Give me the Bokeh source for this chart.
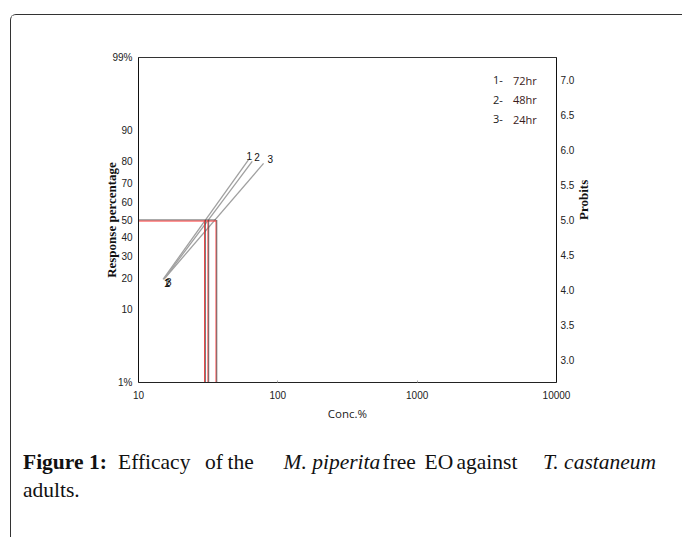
import math
from statistics import NormalDist
from bokeh.plotting import figure
from bokeh.layouts import column
from bokeh.models import LinearAxis, FixedTicker, Range1d, Label
from bokeh.core.properties import value
from bokeh.embed import file_html
from bokeh.resources import INLINE

# ---- data ----
series = ["1", "2", "3"]
legend_nums = ["1-", "2-", "3-"]
legend_times = ["72hr", "48hr", "24hr"]
start_conc = [15.0, 15.2, 15.5]
start_probit = [4.15, 4.15, 4.17]
end_conc = [61.5, 65.5, 79.0]
end_probit = [5.86, 5.84, 5.81]
lc50 = [29.8, 31.5, 36.0]
pct_ticks = [1, 10, 20, 30, 40, 50, 60, 70, 80, 90, 99]
pct_labels = ["1%", "10", "20", "30", "40", "50", "60", "70", "80", "90", "99%"]
probit_ticks = [3.0, 3.5, 4.0, 4.5, 5.0, 5.5, 6.0, 6.5, 7.0]
x_ticks = [10, 100, 1000, 10000]
caption_line1 = ["Figure 1:", "Efficacy", "of", "the", "M. piperita", "free", "EO",
                 "against", "T. castaneum"]
caption_style1 = ["bold", "normal", "normal", "normal", "italic", "normal", "normal",
                  "normal", "italic"]
caption_line2 = ["adults."]

nd = NormalDist()


def probit(pct):
    return 5 + nd.inv_cdf(pct / 100.0)


W, H = 671, 415
p = figure(width=W, height=H, x_axis_type="log",
           x_range=Range1d(10, 10000),
           y_range=Range1d(probit(1), probit(99)),
           output_backend="svg", toolbar_location=None,
           min_border_left=127, min_border_right=126,
           min_border_top=42, min_border_bottom=48)
p.grid.visible = False
p.outline_line_color = "#333333"
p.outline_line_width = 1
p.background_fill_color = "white"
p.border_fill_color = "white"

tick_font = "Liberation Sans"
tick_size = "10px"

# x axis
xa = p.xaxis[0]
xa.ticker = FixedTicker(ticks=x_ticks)
xa.major_label_overrides = {t: str(t) for t in x_ticks}
xa.major_label_text_font = tick_font
xa.major_label_text_font_size = tick_size
xa.major_label_text_color = "#222222"
xa.major_tick_in = 2
xa.major_tick_out = 0
xa.major_tick_line_color = "#aaaaaa"
xa.minor_tick_line_color = None
xa.axis_line_color = "#222222"
xa.major_label_standoff = 8
xa.axis_label = "Conc.%"
xa.axis_label_text_font = "Open Sans"
xa.axis_label_text_font_style = "normal"
xa.axis_label_text_font_size = "11.5px"
xa.axis_label_text_color = "#222222"
xa.axis_label_standoff = 4

# left (percentage) axis
ya = p.yaxis[0]
pt = [probit(v) for v in pct_ticks]
ya.ticker = FixedTicker(ticks=pt)
ya.major_label_overrides = {t: lab for t, lab in zip(pt, pct_labels)}
ya.major_label_text_font = tick_font
ya.major_label_text_font_size = tick_size
ya.major_label_text_color = "#222222"
ya.major_tick_line_color = None
ya.major_tick_in = 0
ya.major_tick_out = 0
ya.minor_tick_line_color = None
ya.minor_tick_in = 0
ya.minor_tick_out = 0
ya.axis_line_color = "#111111"
ya.major_label_standoff = 6
ya.axis_label = "Response percentage"
ya.axis_label_text_font = "Liberation Serif"
ya.axis_label_text_font_style = "bold"
ya.axis_label_text_font_size = "13px"
ya.axis_label_text_color = "#111111"
ya.axis_label_standoff = -10

# right (probit) axis
ra = LinearAxis(ticker=FixedTicker(ticks=probit_ticks))
ra.major_label_overrides = {t: f"{t:.1f}" for t in probit_ticks}
ra.major_label_text_font = tick_font
ra.major_label_text_font_size = tick_size
ra.major_label_text_color = "#222222"
ra.major_tick_line_color = None
ra.major_tick_in = 0
ra.major_tick_out = 0
ra.minor_tick_line_color = None
ra.minor_tick_in = 0
ra.minor_tick_out = 0
ra.axis_line_color = "#111111"
ra.major_label_standoff = 4
ra.axis_label = "Probits"
ra.axis_label_text_font = "Liberation Serif"
ra.axis_label_text_font_style = "bold"
ra.axis_label_text_font_size = "13px"
ra.axis_label_text_color = "#111111"
ra.axis_label_standoff = 6
if hasattr(ra, "axis_label_orientation"):
    ra.axis_label_orientation = math.pi / 2
p.add_layout(ra, "right")

# probit regression lines
p.segment(x0=start_conc, y0=start_probit, x1=end_conc, y1=end_probit,
          line_color="#a0a0a0", line_width=1.3)
top_offsets = [-2, 2, 4]
p.text(x=end_conc, y=end_probit, text=series, text_align="left",
       text_baseline="bottom", x_offset=top_offsets, y_offset=0,
       text_font=value(tick_font), text_font_size="10px", text_color="#111111")
p.text(x=start_conc, y=start_probit, text=series, text_align="left",
       text_baseline="top", x_offset=1, y_offset=0,
       text_font=value(tick_font), text_font_size="10px", text_color="#111111")

# LC50 guide lines
ybot = p.y_range.start
xleft = p.x_range.start
p.segment(x0=[xleft], y0=[5.0], x1=[max(lc50)], y1=[5.0],
          line_color="#555555", line_width=1)
p.segment(x0=[xleft], y0=[4.985], x1=[max(lc50)], y1=[4.985],
          line_color="#ff4040", line_width=1)
p.segment(x0=lc50, y0=[ybot] * 3, x1=lc50, y1=[5.0] * 3,
          line_color="#ff4040", line_width=1)
p.segment(x0=[v * 1.013 for v in lc50], y0=[ybot] * 3,
          x1=[v * 1.013 for v in lc50], y1=[5.0] * 3,
          line_color="#444444", line_width=0.8)

# legend text (screen units relative to the frame)
for i, (n, t) in enumerate(zip(legend_nums, legend_times)):
    sy = 302.5 - i * 19.5
    p.add_layout(Label(x=354.5, y=sy, x_units="screen", y_units="screen", text=n,
                       text_font="Open Sans", text_font_size="11px",
                       text_color="#222222", text_baseline="middle"))
    p.add_layout(Label(x=374.5, y=sy, x_units="screen", y_units="screen", text=t,
                       text_font="Open Sans", text_font_size="11px",
                       text_color="#3a1c1c", text_baseline="middle"))

# caption figure
CW, CH = W, 107
cap = figure(width=CW, height=CH, x_range=Range1d(0, CW), y_range=Range1d(CH, 0),
             output_backend="svg", toolbar_location=None, min_border=0,
             x_axis_location=None, y_axis_location=None)
cap.grid.visible = False
cap.outline_line_color = None
for fig in (p, cap):
    if hasattr(fig, "frame_align"):
        fig.frame_align = False
cap_x1 = [11.5, 106.5, 193.5, 216, 272, 371, 413, 445, 531.5]
for txt, style, cx in zip(caption_line1, caption_style1, cap_x1):
    cap.text(x=[cx], y=[31.5], text=[txt], text_font=value("Liberation Serif"),
             text_font_style=style, text_font_size="21.5px", text_color="#111111",
             text_baseline="alphabetic", text_align="left")
cap.text(x=[11.5], y=[59.5], text=caption_line2, text_font=value("Liberation Serif"),
         text_font_size="21.5px", text_color="#111111",
         text_baseline="alphabetic", text_align="left")

layout = column(p, cap, styles={
    "margin-left": "10px", "margin-top": "14px",
    "border-top": "1.5px solid #333333", "border-left": "1.5px solid #333333",
    "border-top-left-radius": "6px",
})

open("out.html", "w").write(file_html(layout, INLINE))
